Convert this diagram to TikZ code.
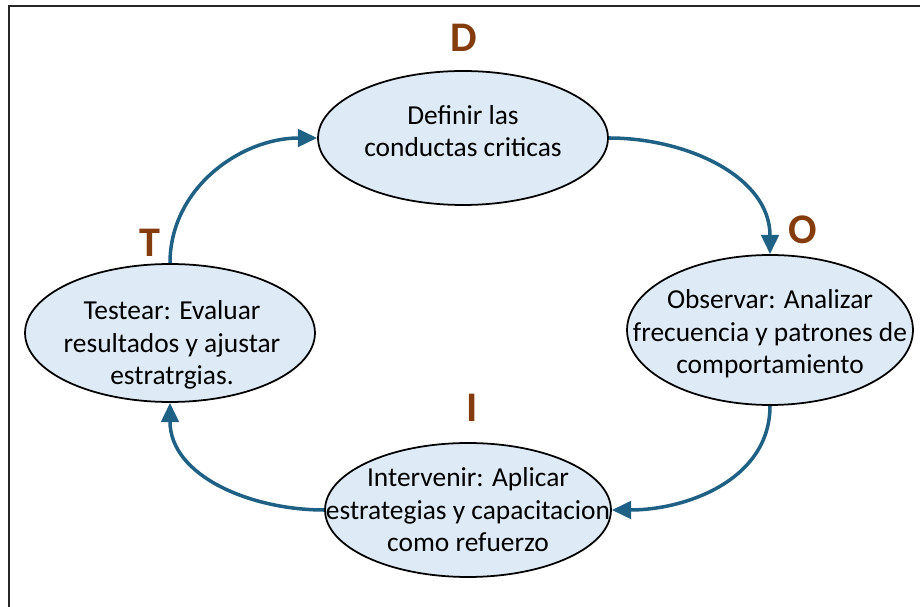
\documentclass[tikz,border=0pt]{standalone}
\usepackage{fontspec}
\setmainfont{Carlito}
\usetikzlibrary{shapes.geometric}
\usetikzlibrary{arrows.meta}
\definecolor{cajaazul}{HTML}{DEEBF7}
\definecolor{flecha}{HTML}{1F6085}
\definecolor{letra}{HTML}{843C0C}
\tikzset{
	etapa/.style={ellipse, draw=black, line width=1pt, fill=cajaazul, inner sep=0pt},
	texto/.style={align=center, font=\fontsize{15.6}{18.5}\selectfont},
	letrab/.style={text=letra, font=\fontsize{24}{24}\selectfont\bfseries},
	ciclo/.style={draw=flecha, line width=2pt, -{Triangle[length=11pt,width=10pt]}}
}

\begin{document}
\begin{tikzpicture}[x=0.02cm,y=-0.02cm]
	\useasboundingbox (0,0) rectangle (920,607);
	\begin{scope}
		\clip (0,0) rectangle (920,607);
		\draw[line width=1.3pt, black!85] (9,6) rectangle (950,650);%marco
	\end{scope}
	\node[etapa, minimum width=5.8cm, minimum height=2.68cm] (eD) at (463,138){};
	\node[etapa, minimum width=5.72cm, minimum height=3cm] (eO) at (770,330){};
	\node[etapa, minimum width=5.72cm, minimum height=2.68cm] (eI) at (468,510){};
	\node[etapa, minimum width=5.8cm, minimum height=2.76cm] (eT) at (170,333){};
	\node[texto] (tD) at (463,131){Definir las\\conductas criticas};
	\node[texto] (tO) at (770,334){Observar: Analizar\\frecuencia y patrones de\\comportamiento};
	\node[texto] (tI) at (468,510){Intervenir: Aplicar\\estrategias y capacitacion\\como refuerzo};
	\node[texto] (tT) at (172,345){Testear: Evaluar\\resultados y ajustar\\estratrgias.};
	\node[letrab] (lD) at (464,38){D};
	\node[letrab] (lO) at (803,230){O};
	\node[letrab] (lI) at (472,408){I};
	\node[letrab] (lT) at (150,243){T};
	\draw[ciclo] (eD.east) to[out=0, in=90] (eO.north);
	\draw[ciclo] (eO.south) to[out=-90, in=0] (eI.east);
	\draw[ciclo] (eI.west) to[out=180, in=-90] (eT.south);
	\draw[ciclo] (eT.north) to[out=90, in=180] (eD.west);
\end{tikzpicture}
\end{document}
